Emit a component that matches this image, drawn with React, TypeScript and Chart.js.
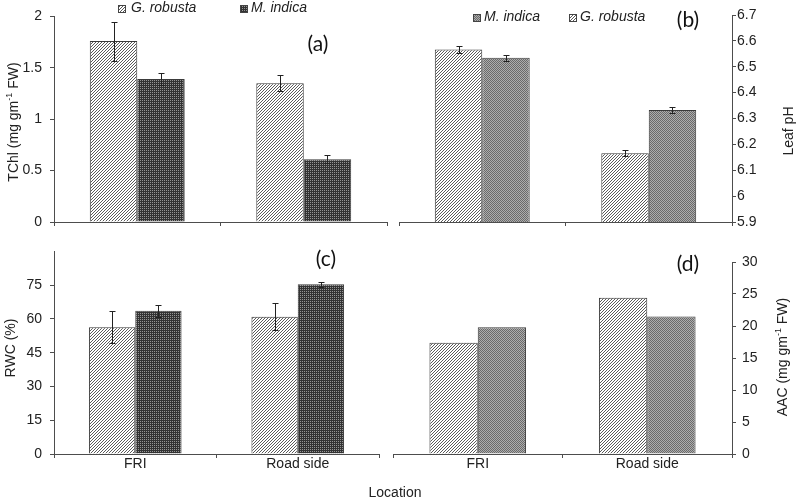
import React, { useEffect, useRef } from 'react';
import { Chart, registerables } from 'chart.js';
Chart.register(...registerables);

// ---------- data ----------
const locations = ['FRI', 'Road side'];

// (a) Total chlorophyll, mg gm-1 FW
const tchlRobusta = [1.76, 1.35];
const tchlRobustaErr = [0.19, 0.08];
const tchlIndica = [1.39, 0.61];
const tchlIndicaErr = [0.06, 0.04];

// (b) Leaf pH
const phRobusta = [6.567, 6.166];
const phRobustaErr = [0.015, 0.012];
const phIndica = [6.535, 6.333];
const phIndicaErr = [0.012, 0.012];

// (c) Relative water content, %
const rwcRobusta = [56.3, 61.0];
const rwcRobustaErr = [7.1, 5.9];
const rwcIndica = [63.6, 75.4];
const rwcIndicaErr = [2.6, 1.0];

// (d) Ascorbic acid content, mg gm-1 FW
const aacRobusta = [17.4, 24.4];
const aacIndica = [19.8, 21.5];

const nameRobusta = 'G. robusta';
const nameIndica = 'M. indica';

// ---------- styling / layout ----------
const AXIS = '#4d4d4d';
const TXT = '#222';
const FONT = '"Liberation Sans", Arial, sans-serif';

type PatKey = 'hatch' | 'dark' | 'mid';
type Series = { label: string; data: number[]; err?: number[]; pat: PatKey };
type LegendItem = { label: string; pat: PatKey; bx: number; tx: number; y: number };
type Panel = {
  left: number; top: number; width: number; height: number;
  area: { left: number; top: number; right: number; bottom: number };
  yPos: 'left' | 'right';
  yMin: number; yMax: number; yStep: number; hideTop?: boolean;
  yPad: number;
  showX: boolean; xh: number;
  series: Series[];
  legend?: LegendItem[];
};

const panels: Panel[] = [
  {
    left: 0, top: 0, width: 400, height: 240,
    area: { left: 54, top: 15, right: 387, bottom: 222 },
    yPos: 'left', yMin: 0, yMax: 2, yStep: 0.5, yPad: 8,
    showX: false, xh: 14,
    series: [
      { label: nameRobusta, data: tchlRobusta, err: tchlRobustaErr, pat: 'hatch' },
      { label: nameIndica, data: tchlIndica, err: tchlIndicaErr, pat: 'dark' },
    ],
    legend: [
      { label: nameRobusta, pat: 'hatch', bx: 118, tx: 131, y: 8.5 },
      { label: nameIndica, pat: 'dark', bx: 240, tx: 251, y: 8.5 },
    ],
  },
  {
    left: 390, top: 0, width: 410, height: 240,
    area: { left: 9, top: 15, right: 342, bottom: 222 },
    yPos: 'right', yMin: 5.9, yMax: 6.7, yStep: 0.1, yPad: 1,
    showX: false, xh: 14,
    series: [
      { label: nameRobusta, data: phRobusta, err: phRobustaErr, pat: 'hatch' },
      { label: nameIndica, data: phIndica, err: phIndicaErr, pat: 'mid' },
    ],
    legend: [
      { label: nameIndica, pat: 'mid', bx: 83, tx: 94, y: 17.5 },
      { label: nameRobusta, pat: 'hatch', bx: 179, tx: 190, y: 17.5 },
    ],
  },
  {
    left: 0, top: 235, width: 400, height: 267,
    area: { left: 54, top: 10, right: 379, bottom: 219 },
    yPos: 'left', yMin: 0, yMax: 90, yStep: 15, hideTop: true, yPad: 8,
    showX: true, xh: 20,
    series: [
      { label: nameRobusta, data: rwcRobusta, err: rwcRobustaErr, pat: 'hatch' },
      { label: nameIndica, data: rwcIndica, err: rwcIndicaErr, pat: 'dark' },
    ],
  },
  {
    left: 385, top: 235, width: 415, height: 267,
    area: { left: 8, top: 27, right: 347, bottom: 219 },
    yPos: 'right', yMin: 0, yMax: 30, yStep: 5, yPad: 6,
    showX: true, xh: 20,
    series: [
      { label: nameRobusta, data: aacRobusta, pat: 'hatch' },
      { label: nameIndica, data: aacIndica, pat: 'mid' },
    ],
  },
];

function makeTile(size: number, fn: (x: number, y: number) => string): CanvasPattern {
  const c = document.createElement('canvas');
  c.width = size; c.height = size;
  const g = c.getContext('2d')!;
  for (let y = 0; y < size; y++) for (let x = 0; x < size; x++) {
    g.fillStyle = fn(x, y); g.fillRect(x, y, 1, 1);
  }
  return g.createPattern(c, 'repeat')!;
}

function makePatterns(): Record<PatKey, CanvasPattern> {
  return {
    hatch: makeTile(3, (x, y) => ((x + y) % 3 === 2 ? '#5a5a5a' : '#ffffff')),
    dark: makeTile(2, (x, y) => (x === 0 && y === 0 ? '#959595' : '#333333')),
    mid: makeTile(2, (x, y) => ((x + y) % 2 === 0 ? '#6a6a6a' : '#adadad')),
  };
}

const fmt = (v: number | string) => String(Math.round(Number(v) * 100) / 100);

function buildChart(canvas: HTMLCanvasElement, p: Panel, pats: Record<PatKey, CanvasPattern>) {
  const yWidth = p.yPos === 'left' ? p.area.left : p.width - p.area.right;
  const padding = {
    left: p.yPos === 'left' ? 0 : p.area.left,
    right: p.yPos === 'left' ? p.width - p.area.right : 0,
    top: p.area.top,
    bottom: Math.max(0, p.height - p.area.bottom - p.xh),
  };
  const extras = {
    id: 'extras',
    afterDatasetsDraw(chart: any) {
      const ctx = chart.ctx as CanvasRenderingContext2D;
      const ys = chart.scales.y;
      p.series.forEach((s, di) => {
        if (!s.err) return;
        const meta = chart.getDatasetMeta(di);
        meta.data.forEach((el: any, i: number) => {
          const x = Math.round(el.x) + 0.5;
          const yt = Math.round(ys.getPixelForValue(s.data[i] + s.err![i])) + 0.5;
          const yb = Math.round(ys.getPixelForValue(s.data[i] - s.err![i])) + 0.5;
          ctx.save();
          ctx.strokeStyle = '#222';
          ctx.lineWidth = 1;
          ctx.beginPath();
          ctx.moveTo(x, yt); ctx.lineTo(x, yb);
          ctx.moveTo(x - 3, yt); ctx.lineTo(x + 3, yt);
          ctx.moveTo(x - 3, yb); ctx.lineTo(x + 3, yb);
          ctx.stroke();
          ctx.restore();
        });
      });
    },
    afterDraw(chart: any) {
      if (!p.legend) return;
      const ctx = chart.ctx as CanvasRenderingContext2D;
      ctx.save();
      p.legend.forEach((it) => {
        ctx.fillStyle = pats[it.pat];
        ctx.fillRect(it.bx, it.y - 3.5, 7, 7);
        ctx.strokeStyle = '#444';
        ctx.lineWidth = 1;
        ctx.strokeRect(it.bx + 0.5, Math.round(it.y - 3.5) + 0.5, 7, 7);
        ctx.fillStyle = TXT;
        ctx.font = `italic 14px ${FONT}`;
        ctx.textBaseline = 'middle';
        ctx.textAlign = 'left';
        ctx.fillText(it.label, it.tx, it.y);
      });
      ctx.restore();
    },
  };

  return new Chart(canvas, {
    type: 'bar',
    data: {
      labels: locations,
      datasets: p.series.map((s) => ({
        label: s.label,
        data: s.data,
        backgroundColor: pats[s.pat],
        borderColor: '#3a3a3a',
        borderWidth: 1,
        categoryPercentage: 0.57,
        barPercentage: 1,
      })),
    },
    options: {
      animation: false,
      responsive: false,
      devicePixelRatio: 1,
      layout: { padding },
      plugins: { legend: { display: false }, tooltip: { enabled: false } },
      scales: {
        x: {
          type: 'category',
          offset: true,
          grid: { display: true, drawOnChartArea: false, drawTicks: true, tickLength: 4, tickColor: AXIS, offset: true },
          border: { display: true, color: AXIS, width: 1 },
          ticks: { display: p.showX, font: { family: FONT, size: 14 }, color: TXT, padding: -2, maxRotation: 0, autoSkip: false },
          afterFit: (s: any) => { s.height = p.xh; },
        },
        y: {
          type: 'linear',
          position: p.yPos,
          min: p.yMin,
          max: p.yMax,
          grid: {
            drawOnChartArea: false, drawTicks: true, tickLength: 4,
            tickColor: (c: any) => (p.hideTop && c.tick && Math.abs(c.tick.value - p.yMax) < 1e-9 ? 'rgba(0,0,0,0)' : AXIS),
          },
          border: { display: true, color: AXIS, width: 1 },
          ticks: {
            stepSize: p.yStep,
            font: { family: FONT, size: 14 },
            color: TXT,
            padding: p.yPad,
            callback: (v: any) => (p.hideTop && Math.abs(Number(v) - p.yMax) < 1e-9 ? '' : fmt(v)),
          },
          afterFit: (s: any) => { s.width = yWidth; },
        },
      },
    } as any,
    plugins: [extras as any],
  });
}

const txtBase: React.CSSProperties = {
  position: 'absolute', whiteSpace: 'nowrap', fontFamily: FONT, fontSize: 14, color: TXT, lineHeight: 1,
};
const sup = <sup style={{ fontSize: 9, lineHeight: 0, verticalAlign: 'super' }}>-1</sup>;

function VText({ x, y, children }: { x: number; y: number; children: React.ReactNode }) {
  return (
    <div style={{ ...txtBase, left: x, top: y, transform: 'translate(-50%, -50%) rotate(-90deg)' }}>{children}</div>
  );
}
function HText({ x, y, children, style }: { x: number; y: number; children: React.ReactNode; style?: React.CSSProperties }) {
  return <div style={{ ...txtBase, left: x, top: y, transform: 'translate(-50%, -50%)', ...style }}>{children}</div>;
}

const tagStyle: React.CSSProperties = { fontFamily: 'Lato, "Open Sans", sans-serif', fontSize: 21, color: '#111' };

export default function App() {
  const r0 = useRef<HTMLCanvasElement>(null);
  const r1 = useRef<HTMLCanvasElement>(null);
  const r2 = useRef<HTMLCanvasElement>(null);
  const r3 = useRef<HTMLCanvasElement>(null);
  const refs = [r0, r1, r2, r3];

  useEffect(() => {
    const pats = makePatterns();
    const charts = panels.map((p, i) => buildChart(refs[i].current!, p, pats));
    return () => charts.forEach((c) => c.destroy());
  }, []);

  return (
    <div style={{ position: 'absolute', left: 0, top: 0, width: 800, height: 502, background: '#fff', overflow: 'hidden' }}>
      {panels.map((p, i) => (
        <canvas
          key={i}
          ref={refs[i]}
          width={p.width}
          height={p.height}
          style={{ position: 'absolute', left: p.left, top: p.top, width: p.width, height: p.height }}
        />
      ))}
      <VText x={13} y={122}>TChl (mg gm{sup} FW)</VText>
      <VText x={788} y={131}>Leaf pH</VText>
      <VText x={10} y={348}>RWC (%)</VText>
      <VText x={782} y={357}>AAC (mg gm{sup} FW)</VText>
      <HText x={395} y={492}>Location</HText>
      <HText x={318} y={42} style={tagStyle}>(a)</HText>
      <HText x={688} y={18} style={tagStyle}>(b)</HText>
      <HText x={326} y={257} style={tagStyle}>(c)</HText>
      <HText x={688} y={262} style={tagStyle}>(d)</HText>
    </div>
  );
}
